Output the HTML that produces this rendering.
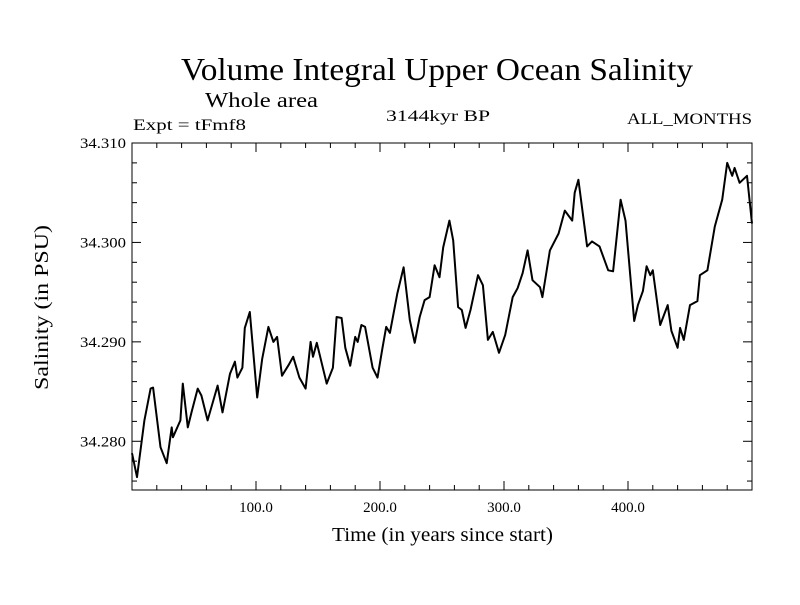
<!DOCTYPE html>
<html><head><meta charset="utf-8"><style>
body{margin:0;background:#fff}
svg text{font-family:"Liberation Serif",serif;fill:#000}
</style></head><body>
<svg id="chart" width="800" height="600" xmlns="http://www.w3.org/2000/svg">
<rect width="800" height="600" fill="#fff"/>
<text x="181" y="80" font-size="32" textLength="512" lengthAdjust="spacingAndGlyphs">Volume Integral Upper Ocean Salinity</text>
<text x="205" y="107" font-size="21" textLength="113" lengthAdjust="spacingAndGlyphs">Whole area</text>
<text x="133" y="130" font-size="16" textLength="113" lengthAdjust="spacingAndGlyphs">Expt = tFmf8</text>
<text x="386" y="121" font-size="16" textLength="104" lengthAdjust="spacingAndGlyphs">3144kyr BP</text>
<text x="627" y="124" font-size="16" textLength="125" lengthAdjust="spacingAndGlyphs">ALL_MONTHS</text>
<text transform="translate(48,390) rotate(-90)" font-size="20" textLength="165" lengthAdjust="spacingAndGlyphs">Salinity (in PSU)</text>
<text x="332" y="541" font-size="20" textLength="221" lengthAdjust="spacingAndGlyphs">Time (in years since start)</text>
<g id="axes"></g>
<path id="series" fill="none" stroke="#000" stroke-width="2" stroke-linejoin="round"/>
<rect x="132" y="143" width="620" height="347" fill="none" stroke="#000" stroke-width="1"/>
</svg>
<script>
const years=[0,4,10,15,17,23,28,32,33,39,41,45,48,53,56,61,69,73,79,83,85,89,91,95,101,105,110,114,117,121,126,130,135,140,144,146,149,157,162,165,169,172,176,180,182,185,188,194,198,202,205,208,214,219,224,228,232,236,240,244,248,251,256,259,263,266,269,273,279,283,287,291,296,301,307,311,315,319,323,329,331,337,344,349,355,357,360,367,371,377,384,388,394,398,405,408,412,415,418,420,426,432,435,440,442,445,450,456,458,464,470,476,480,484,486,490,496,500];
const salinity=[34.2788,34.2764,34.2821,34.2853,34.2854,34.2794,34.2778,34.2814,34.2804,34.2821,34.2858,34.2814,34.2829,34.2853,34.2846,34.2821,34.2856,34.2829,34.2868,34.2880,34.2864,34.2874,34.2914,34.2930,34.2844,34.2883,34.2915,34.2900,34.2905,34.2866,34.2876,34.2885,34.2864,34.2853,34.2900,34.2885,34.2899,34.2858,34.2874,34.2925,34.2924,34.2894,34.2876,34.2905,34.2900,34.2917,34.2915,34.2874,34.2864,34.2894,34.2915,34.2909,34.2949,34.2975,34.2922,34.2899,34.2925,34.2942,34.2945,34.2977,34.2965,34.2995,34.3022,34.3002,34.2935,34.2932,34.2914,34.2932,34.2967,34.2957,34.2902,34.2910,34.2889,34.2907,34.2945,34.2954,34.2969,34.2992,34.2962,34.2955,34.2945,34.2992,34.3009,34.3032,34.3022,34.3050,34.3063,34.2996,34.3001,34.2996,34.2972,34.2971,34.3043,34.3022,34.2921,34.2937,34.2951,34.2976,34.2967,34.2972,34.2917,34.2937,34.2911,34.2894,34.2914,34.2902,34.2937,34.2941,34.2967,34.2972,34.3016,34.3043,34.3080,34.3067,34.3075,34.3060,34.3067,34.3019];
const xTickLabels=["100.0","200.0","300.0","400.0"];
const yTickLabels=["34.280","34.290","34.300","34.310"];
const X0=132,X1=752,Y0=490,Y1=143,XMIN=0,XMAX=500,YMIN=34.2751,YMAX=34.310;
function sx(v){return X0+(v-XMIN)/(XMAX-XMIN)*(X1-X0);}
function sy(v){return Y0-(v-YMIN)/(YMAX-YMIN)*(Y0-Y1);}
const NS="http://www.w3.org/2000/svg";
const g=document.getElementById('axes');
function line(x1,y1,x2,y2,name){const l=document.createElementNS(NS,'line');l.setAttribute('x1',x1);l.setAttribute('y1',y1);l.setAttribute('x2',x2);l.setAttribute('y2',y2);l.setAttribute('stroke','#000');l.setAttribute('stroke-width','1');


g.appendChild(l);}
for(let v=20;v<500;v+=20){const x=sx(v),L=(v%100===0)?9:5;line(x,Y0,x,Y0-L,'x-tick');line(x,Y1,x,Y1+L,'x-tick-top');}
for(let i=0;i<=17;i++){const v=34.276+i*0.002;if(v>YMAX+1e-9)break;const y=sy(v);const major=Math.abs((v*1000)%10)<1e-6||Math.abs((v*1000)%10-10)<1e-6;const L=major?9:5;line(X0,y,X0+L,y,'y-tick');line(X1,y,X1-L,y,'y-tick-right');}
xTickLabels.forEach(s=>{const t=document.createElementNS(NS,'text');t.setAttribute('x',sx(parseFloat(s)));t.setAttribute('y',Y0+22);t.setAttribute('font-size','15');t.setAttribute('text-anchor','middle');t.textContent=s;


g.appendChild(t);});
yTickLabels.forEach(s=>{const t=document.createElementNS(NS,'text');t.setAttribute('x',X0-52);t.setAttribute('y',sy(parseFloat(s))+5);t.setAttribute('font-size','15');t.setAttribute('textLength','46');t.setAttribute('lengthAdjust','spacingAndGlyphs');t.textContent=s;


g.appendChild(t);});
document.getElementById('series').setAttribute('d',years.map((yr,i)=>(i?'L':'M')+sx(yr).toFixed(1)+','+sy(salinity[i]).toFixed(1)).join(''));
</script>
</body></html>
